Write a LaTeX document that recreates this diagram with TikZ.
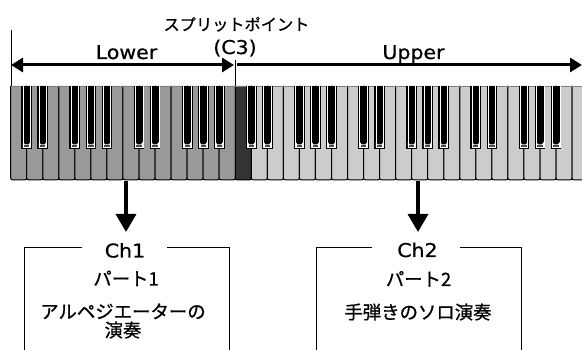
\documentclass[tikz,border=0pt]{standalone}
\usepackage{fontspec}
\setmainfont{DejaVu Sans}[FakeBold=0.6,FakeStretch=1.08]
\newfontfamily\jpfont{Noto Sans CJK JP}[FakeBold=0.8]
\usetikzlibrary{arrows.meta}

\definecolor{lowkey}{gray}{0.6}
\definecolor{upkey}{gray}{0.8}
\definecolor{splitkey}{gray}{0.2}

\begin{document}
\begin{tikzpicture}[x=1pt,y=-1pt]
\tikzstyle{every node}=[inner sep=0pt]
\tikzstyle{lbl}=[anchor=base,font=\fontsize{19}{21}\selectfont]
\tikzstyle{jlbl}=[anchor=base,font=\jpfont\fontsize{18.4}{20}\selectfont]
\tikzstyle{span}=[line width=3pt,{Triangle[length=12pt,width=14pt]}-{Triangle[length=12pt,width=14pt]}]
\tikzstyle{drop}=[line width=3.5pt,-{Triangle[length=18pt,width=20pt]}]
\tikzstyle{marker}=[line width=1pt]
\tikzstyle{frame}=[line width=1pt]

\useasboundingbox (0,0) rectangle (582,350);

% keyboard
\begin{scope}
\clip (0,0) rectangle (582,350);
\foreach \k in {0,...,35} {
  \pgfmathsetmacro{\xl}{10.7+16.04*\k}
  \ifnum\k<14 \def\kc{lowkey}\else\ifnum\k=14 \def\kc{splitkey}\else\def\kc{upkey}\fi\fi
  \draw[fill=\kc,line width=1pt,rounded corners=2pt] (\xl,86) -- (\xl,180) -- (\xl+16.04,180) -- (\xl+16.04,86);
}
\draw[gray,line width=0.8pt] (10.7,86) -- (582,86);
\foreach \o in {0,...,4}
\foreach \n in {1,2,4,5,6} {
  \pgfmathsetmacro{\xb}{10.7+16.04*(7*\o+\n)}
  \fill[black] (\xb-5.4,86) rectangle (\xb+5.4,149.5);
  \draw[white,line width=0.6pt] (\xb-3.8,86) -- (\xb-3.8,147.5) -- (\xb+3.8,147.5) -- (\xb+3.8,86);
  \fill[white] (\xb-3.8,142) -- (\xb-2,144.3) -- (\xb+2,144.3) -- (\xb+3.8,142) -- (\xb+3.8,147.5) -- (\xb-3.8,147.5) -- cycle;
  \fill[black!70] (\xb-2.6,145.2) rectangle (\xb+2.6,146.8);
}
\end{scope}

% labels
\node[jlbl,font=\jpfont\fontsize{16.2}{18}\selectfont] (split) at (236.5,30.5) {スプリットポイント};
\node[lbl] (c3) at (235,54) {(C3)};
\node[lbl] (lower) at (126.5,59) {Lower};
\node[lbl] (upper) at (413.5,59) {Upper};

\coordinate (lowL) at (11,65);
\coordinate (lowR) at (234,65);
\coordinate (upL) at (237,65);
\coordinate (upR) at (582,65);
\coordinate (mk1) at (11,30);
\coordinate (mk1b) at (11,86);
\coordinate (mk2) at (235.5,60);
\coordinate (mk2b) at (235.5,86);

\draw[marker] (mk1) -- (mk1b);
\draw[marker] (mk2) -- (mk2b);
\draw[span] (lowL) -- (lowR);
\draw[span,-{Triangle[length=12pt,width=14pt]}] (upL) -- (upR);

% channels
\coordinate (d1) at (126,181);
\coordinate (d1e) at (126,232);
\coordinate (d2) at (418,181);
\coordinate (d2e) at (418,232);
\draw[drop] (d1) -- (d1e);
\draw[drop] (d2) -- (d2e);

\node[lbl] (ch1) at (125,257.5) {Ch1};
\node[jlbl] (part1) at (126,285.5) {パート1};
\node[jlbl,align=center,font=\jpfont\fontsize{18.4}{18.6}\selectfont] (arp) at (123,337) {アルペジエーターの\\演奏};
\node[lbl] (ch2) at (417.5,257) {Ch2};
\node[jlbl] (part2) at (418.5,286) {パート2};
\node[jlbl] (solo) at (418,319) {手弾きのソロ演奏};

\coordinate (b1a) at (82,248);
\coordinate (b1nw) at (24,248);
\coordinate (b1sw) at (24,351);
\coordinate (b1b) at (167,248);
\coordinate (b1ne) at (229,248);
\coordinate (b1se) at (229,351);
\coordinate (b2a) at (372,248);
\coordinate (b2nw) at (316,248);
\coordinate (b2sw) at (316,351);
\coordinate (b2b) at (460,248);
\coordinate (b2ne) at (521,248);
\coordinate (b2se) at (521,351);
\draw[frame] (b1a) -- (b1nw) -- (b1sw);
\draw[frame] (b1b) -- (b1ne) -- (b1se);
\draw[frame] (b2a) -- (b2nw) -- (b2sw);
\draw[frame] (b2b) -- (b2ne) -- (b2se);

\end{tikzpicture}
\end{document}
